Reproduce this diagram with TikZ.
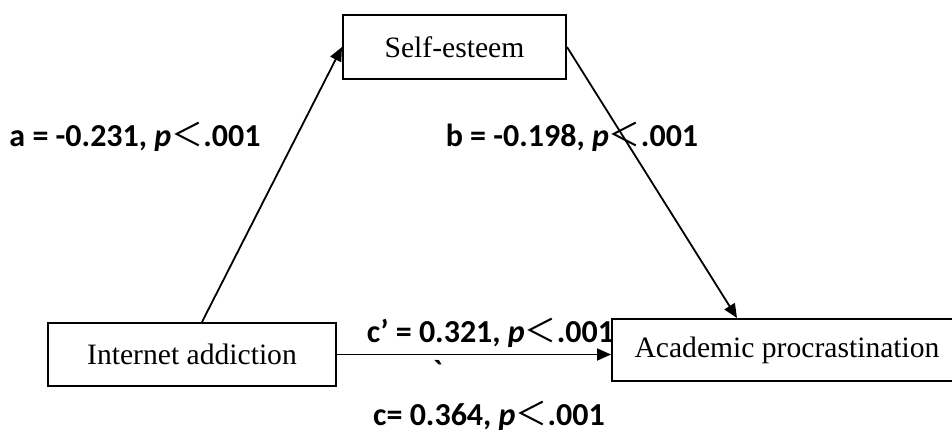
\documentclass[tikz,border=0pt]{standalone}
\usepackage{fontspec}
\setmainfont{Liberation Serif}
\newfontfamily\lblfont{Carlito}
\newfontfamily\cjkfont{Noto Sans CJK SC}
\usetikzlibrary{arrows.meta}
\newcommand{\plt}{{\cjkfont\mdseries\upshape ＜}}

\begin{document}
\begin{tikzpicture}[x=0.5pt,y=-0.5pt,
  varbox/.style={draw,line width=1pt,inner sep=0pt,font=\fontsize{14.8}{17}\selectfont},
  coef/.style={font=\lblfont\bfseries\fontsize{16}{19}\selectfont,inner sep=0pt,anchor=base},
  effect/.style={line width=0.9pt,-{Triangle[length=7pt,width=6pt]}}]
\useasboundingbox (0,0) rectangle (952,432);
\node[varbox,minimum width=111.5pt,minimum height=32pt] (se) at (454.5,47) {Self-esteem};
\node[varbox,minimum width=144pt,minimum height=31.5pt] (ia) at (192,354.5) {Internet addiction};
\node[varbox,minimum width=175pt,minimum height=31pt] (ap) at (787,350) {Academic procrastination};
\draw[effect] ([xshift=5pt]ia.north) -- (se.west);
\draw[effect] (se.east) -- ([xshift=-25pt]ap.north);
\draw[effect] (ia.east) -- (ia.east -| ap.west);
\node[coef] (alab) at (135,147) {a = -0.231, \textit{p}\plt.001};
\node[coef] (blab) at (572,147) {b = -0.198, \textit{p}\plt.001};
\node[coef] (cplab) at (490.5,343) {c’ = 0.321, \textit{p}\plt.001};
\node[coef] (clab) at (489,425) {c= 0.364, \textit{p}\plt.001};
\node[coef] (tick) at (438,382) {\symbol{96}};

\end{tikzpicture}
\end{document}
